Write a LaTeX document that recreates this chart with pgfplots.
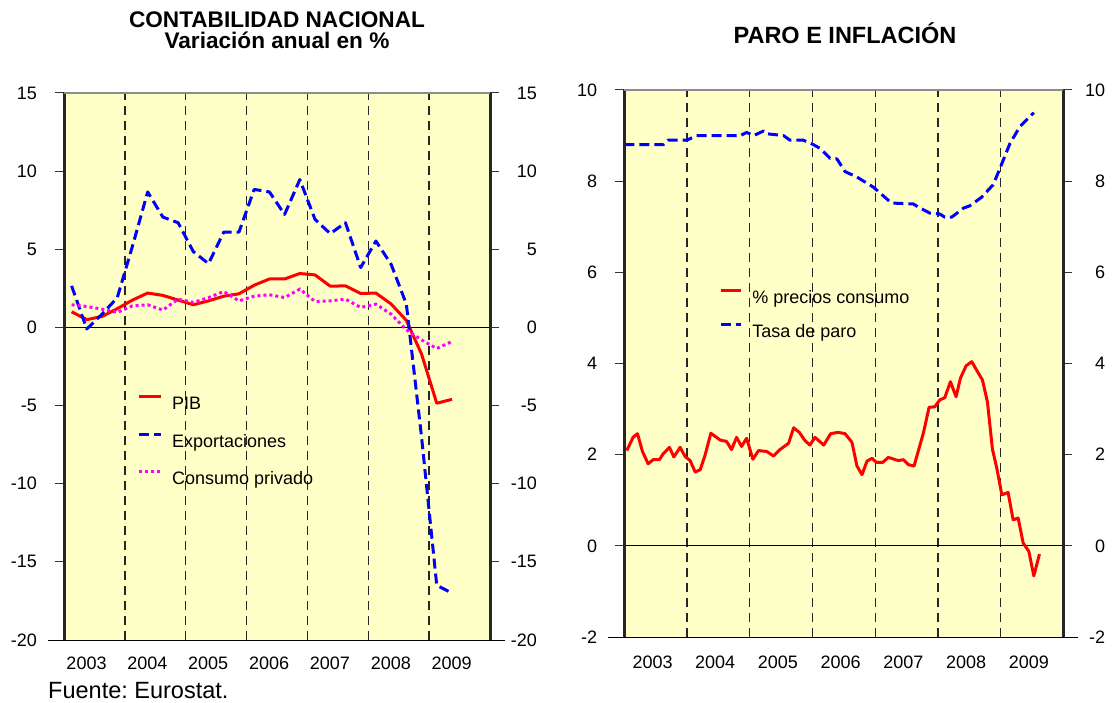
\documentclass[border=0pt]{standalone}
\usepackage{fontspec}
\setmainfont{Liberation Sans}
\usepackage{pgfplots}
\pgfplotsset{compat=1.18}
\frenchspacing
\definecolor{bgyellow}{RGB}{255,255,200}
\definecolor{lred}{RGB}{255,0,0}
\definecolor{lblue}{RGB}{0,0,255}
\definecolor{lmag}{RGB}{255,0,255}
\newcommand{\tfont}{\fontsize{18}{21}\selectfont}
\tikzset{
  vline/.style={black!85, line width=1.3pt, dash pattern=on 9pt off 6pt},
  sred/.style={lred, line width=3pt, line join=round},
  sblue/.style={lblue, line width=3pt, dash pattern=on 10pt off 5pt, line join=round},
  smag/.style={lmag, line width=3pt, dash pattern=on 3pt off 3pt},
}
\pgfplotsset{
  panel/.style={
    scale only axis, clip mode=individual,
    axis background/.style={fill=bgyellow},
    axis line style={draw=none},
    xmin=2003, xmax=2010,
    xtick style={draw=none},
    ytick style={draw=black!80, line width=1pt},
    tick align=outside, major tick length=9pt,
    ytick pos=both, yticklabel pos=left,
    /pgf/number format/assume math mode=true,
    tick label style={font=\tfont, inner sep=0pt},
    legend cell align=left,
  },
  rlabels/.style={
    scale only axis, xmin=2003, xmax=2010,
    axis line style={draw=none}, xtick=\empty,
    major tick length=0pt, ytick pos=right, yticklabel pos=right,
    /pgf/number format/assume math mode=true,
    tick label style={font=\tfont, inner sep=0pt},
  },
}
\begin{document}
\begin{tikzpicture}
\path[use as bounding box] (0pt,0pt) rectangle (1116pt,702pt);

% ---------------- Left panel ----------------
\begin{axis}[panel, at={(64pt,62pt)}, anchor=south west,
  width=426pt, height=547pt,
  ymin=-20, ymax=15, ytick={-20,-15,-10,-5,0,5,10,15},
  xtick={2003.37,2004.37,2005.37,2006.37,2007.37,2008.37,2009.37},
  xticklabels={2003,2004,2005,2006,2007,2008,2009},
  xticklabel style={yshift=-8pt},
  yticklabel style={xshift=-18pt},
  legend style={at={(0.171,0.448)}, anchor=north west, draw=none, fill=none,
    inner sep=0pt, font=\tfont, column sep=10pt, row sep=23pt,
    nodes={inner sep=0pt, text height=13pt, text depth=0pt}},
  legend image code/.code={\draw[#1] (0pt,6.5pt) -- (22pt,6.5pt);},
]
\pgfplotsinvokeforeach{2004,2005,2006,2007,2008,2009}{
  \draw[vline] (axis cs:#1,-20) -- (axis cs:#1,15);
}
\draw[black, line width=0.9pt] (axis cs:2003,0) -- (axis cs:2010,0);
\addplot[sred] coordinates {
(2003.125,1.0) (2003.375,0.5) (2003.625,0.7) (2003.875,1.2)
(2004.125,1.75) (2004.375,2.2) (2004.625,2.05) (2004.875,1.75)
(2005.125,1.45) (2005.375,1.7) (2005.625,2.0) (2005.875,2.15)
(2006.125,2.7) (2006.375,3.1) (2006.625,3.1) (2006.875,3.45)
(2007.125,3.36) (2007.375,2.64) (2007.625,2.66) (2007.875,2.17)
(2008.125,2.2) (2008.375,1.5) (2008.625,0.45) (2008.875,-1.7)
(2009.125,-4.85) (2009.375,-4.6)};
\addlegendentry{PIB}
\addplot[sblue] coordinates {
(2003.125,2.66) (2003.375,-0.1) (2003.625,0.85) (2003.875,1.9)
(2004.125,5.2) (2004.375,8.67) (2004.625,7.06) (2004.875,6.7)
(2005.125,4.85) (2005.375,4.08) (2005.625,6.1) (2005.875,6.1)
(2006.125,8.83) (2006.375,8.67) (2006.625,7.23) (2006.875,9.46)
(2007.125,6.91) (2007.375,6.0) (2007.625,6.7) (2007.875,3.83)
(2008.125,5.53) (2008.375,4.04) (2008.625,1.5) (2008.875,-7.0)
(2009.125,-16.5) (2009.375,-17.0)};
\addlegendentry{Exportaciones}
\addplot[smag] coordinates {
(2003.125,1.45) (2003.375,1.34) (2003.625,1.17) (2003.875,0.96)
(2004.125,1.38) (2004.375,1.45) (2004.625,1.11) (2004.875,1.81)
(2005.125,1.6) (2005.375,1.91) (2005.625,2.3) (2005.875,1.7)
(2006.125,2.0) (2006.375,2.09) (2006.625,1.91) (2006.875,2.45)
(2007.125,1.66) (2007.375,1.70) (2007.625,1.81) (2007.875,1.28)
(2008.125,1.49) (2008.375,0.85) (2008.625,-0.15) (2008.875,-0.8)
(2009.125,-1.35) (2009.375,-0.9)};
\addlegendentry{Consumo privado}
\draw[black!85, line width=3pt] (rel axis cs:0,0) -- (rel axis cs:0,1);
\draw[black!85, line width=3pt] (rel axis cs:1,0) -- (rel axis cs:1,1);
\draw[black!45, line width=1.5pt] (rel axis cs:0,1) -- (rel axis cs:1,1);
\draw[black, line width=1pt] (rel axis cs:-0.038,0) -- (rel axis cs:1.035,0);
\end{axis}
\begin{axis}[rlabels, at={(64pt,62pt)}, anchor=south west,
  width=426pt, height=547pt, ymin=-20, ymax=15,
  ytick={-20,-15,-10,-5,0,5,10,15},
  yticklabel style={anchor=east, xshift=47pt}]
\end{axis}

% ---------------- Right panel ----------------
\begin{axis}[panel, at={(624.3pt,65pt)}, anchor=south west,
  width=439pt, height=547pt,
  ymin=-2, ymax=10, ytick={-2,0,2,4,6,8,10},
  xtick={2003.45,2004.45,2005.45,2006.45,2007.45,2008.45,2009.45},
  xticklabels={2003,2004,2005,2006,2007,2008,2009},
  xticklabel style={yshift=-10pt},
  yticklabel style={xshift=-18pt},
  legend style={at={(0.216,0.637)}, anchor=north west, draw=none, fill=none,
    inner sep=0pt, font=\tfont, column sep=10pt, row sep=20pt,
    nodes={inner sep=0pt, text height=13pt, text depth=0pt}},
  legend image code/.code={\draw[#1] (0pt,6.5pt) -- (20pt,6.5pt);},
]
\pgfplotsinvokeforeach{2004,2005,2006,2007,2008,2009}{
  \draw[vline] (axis cs:#1,-2) -- (axis cs:#1,10);
}
\draw[black, line width=0.9pt] (axis cs:2003,0) -- (axis cs:2010,0);
\addplot[sred] coordinates {
(2003.04,2.09) (2003.14,2.38) (2003.21,2.46) (2003.29,2.07) (2003.38,1.80)
(2003.46,1.89) (2003.56,1.89) (2003.62,2.02) (2003.72,2.16) (2003.79,1.95)
(2003.89,2.16) (2003.97,1.96) (2004.05,1.87) (2004.13,1.62) (2004.21,1.67)
(2004.29,2.0) (2004.38,2.47) (2004.53,2.32) (2004.63,2.29) (2004.71,2.11)
(2004.79,2.38) (2004.87,2.18) (2004.95,2.36) (2005.05,1.9) (2005.14,2.09)
(2005.27,2.07) (2005.38,1.97) (2005.48,2.11) (2005.62,2.25) (2005.70,2.59)
(2005.79,2.49) (2005.88,2.31) (2005.96,2.21) (2006.04,2.38) (2006.18,2.21)
(2006.29,2.46) (2006.41,2.49) (2006.52,2.46) (2006.63,2.27) (2006.71,1.75)
(2006.79,1.56) (2006.87,1.86) (2006.95,1.92) (2007.02,1.83) (2007.12,1.83)
(2007.21,1.94) (2007.37,1.87) (2007.45,1.89) (2007.53,1.78) (2007.62,1.75)
(2007.77,2.48) (2007.86,3.04) (2007.95,3.05) (2008.03,3.2) (2008.11,3.25)
(2008.20,3.6) (2008.29,3.27) (2008.36,3.68) (2008.45,3.95) (2008.54,4.04)
(2008.62,3.85) (2008.71,3.64) (2008.79,3.16) (2008.87,2.12) (2008.94,1.70)
(2009.02,1.12) (2009.12,1.17) (2009.20,0.57) (2009.28,0.61) (2009.36,0.06)
(2009.45,-0.12) (2009.53,-0.66) (2009.62,-0.18)};
\addlegendentry{\% precios consumo}
\addplot[sblue] coordinates {
(2003.0,8.8) (2003.62,8.8) (2003.70,8.9) (2004.0,8.9) (2004.15,9.0)
(2004.85,9.0) (2004.95,9.07) (2005.06,9.0) (2005.22,9.1) (2005.27,9.04)
(2005.54,9.0) (2005.64,8.9) (2005.85,8.9) (2005.99,8.82) (2006.12,8.72)
(2006.28,8.5) (2006.39,8.49) (2006.52,8.21) (2006.71,8.09) (2006.97,7.87)
(2007.26,7.52) (2007.61,7.5) (2007.69,7.43) (2007.87,7.3) (2008.03,7.28)
(2008.11,7.21) (2008.22,7.21) (2008.41,7.41) (2008.51,7.46) (2008.70,7.65)
(2008.88,7.92) (2008.99,8.28) (2009.15,8.83) (2009.31,9.2) (2009.53,9.5)};
\addlegendentry{Tasa de paro}
\draw[black!85, line width=3pt] (rel axis cs:0,0) -- (rel axis cs:0,1);
\draw[black!85, line width=3pt] (rel axis cs:1,0) -- (rel axis cs:1,1);
\draw[black!45, line width=1.5pt] (rel axis cs:0,1) -- (rel axis cs:1,1);
\draw[black, line width=1pt] (rel axis cs:-0.037,0) -- (rel axis cs:1.0335,0);
\end{axis}
\begin{axis}[rlabels, at={(624.3pt,65pt)}, anchor=south west,
  width=439pt, height=547pt, ymin=-2, ymax=10,
  ytick={-2,0,2,4,6,8,10},
  yticklabel style={anchor=east, xshift=42pt}]
\end{axis}

% ---------------- Titles and source ----------------
\node[font=\fontsize{22.6}{20.5}\selectfont\bfseries, align=center, inner sep=0pt]
  at (277pt,672pt) {CONTABILIDAD NACIONAL\\Variación anual en \%};
\node[font=\fontsize{23.5}{20}\selectfont\bfseries, anchor=base, inner sep=0pt]
  at (845pt,658.5pt) {PARO E INFLACIÓN};
\node[font=\fontsize{23.5}{26}\selectfont, anchor=base west, inner sep=0pt]
  at (48pt,4pt) {Fuente: Eurostat.};
\end{tikzpicture}
\end{document}
